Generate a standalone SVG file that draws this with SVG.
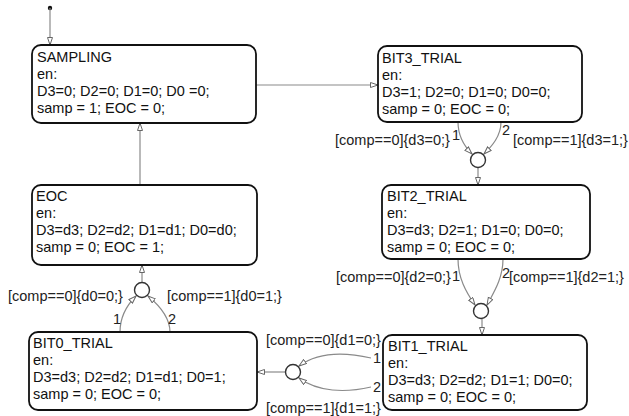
<svg xmlns="http://www.w3.org/2000/svg" width="629" height="416" viewBox="0 0 629 416">
<style>
.box{fill:#fff;stroke:#111;stroke-width:1.8}
.t{font-family:"Liberation Sans",Arial,sans-serif;font-size:14.5px;fill:#111}
.lb{font-family:"Liberation Sans",Arial,sans-serif;font-size:14.5px;fill:#222}
.c{fill:none;stroke:#8a8a8a;stroke-width:1.2}
.j{fill:#fff;stroke:#333;stroke-width:1.4}
</style>
<defs>
<marker id="ah" markerUnits="userSpaceOnUse" markerWidth="10" markerHeight="8" refX="8" refY="3" orient="auto">
<path d="M0.5,0.5 L8,3 L0.5,5.5 Z" fill="#fff" stroke="#666" stroke-width="1"/>
</marker>
</defs>
<rect width="629" height="416" fill="#fff"/>
<g id="connectors">
<circle cx="50" cy="8" r="2.2" fill="#111"/>
<path class="c" d="M50,8 L50,45" marker-end="url(#ah)"/>
<path class="c" d="M256,85 L378,85" marker-end="url(#ah)"/>
<path class="c" d="M140,185 L140,123" marker-end="url(#ah)"/>
<path class="c" d="M458,122 C458,136 464,146 472,154" marker-end="url(#ah)"/>
<path class="c" d="M501,122 C501,136 492,146 484,154" marker-end="url(#ah)"/>
<path class="c" d="M478,168 L478,185" marker-end="url(#ah)"/>
<path class="c" d="M458,259 C458,278 466,292 475,305" marker-end="url(#ah)"/>
<path class="c" d="M503,259 C503,278 494,292 487,305" marker-end="url(#ah)"/>
<path class="c" d="M482,319 L482,335" marker-end="url(#ah)"/>
<path class="c" d="M371,358 C345,352 318,352 299,366" marker-end="url(#ah)"/>
<path class="c" d="M371,387 C345,393 318,392 299,378" marker-end="url(#ah)"/>
<path class="c" d="M285,372 L257,372" marker-end="url(#ah)"/>
<path class="c" d="M120,332 C120,318 126,306 136,296" marker-end="url(#ah)"/>
<path class="c" d="M170,332 C170,318 160,306 148,296" marker-end="url(#ah)"/>
<path class="c" d="M142,283 L142,265" marker-end="url(#ah)"/>
<circle class="j" cx="478" cy="160" r="7.5"/>
<circle class="j" cx="481" cy="311" r="7.5"/>
<circle class="j" cx="293" cy="372" r="7.5"/>
<circle class="j" cx="142" cy="290" r="7.5"/>
<text class="lb" x="335" y="145">[comp==0]{d3=0;}</text>
<text class="lb" x="452" y="140">1</text>
<text class="lb" x="502" y="135">2</text>
<text class="lb" x="513" y="145">[comp==1]{d3=1;}</text>
<text class="lb" x="336" y="282">[comp==0]{d2=0;}</text>
<text class="lb" x="452" y="281">1</text>
<text class="lb" x="502" y="278">2</text>
<text class="lb" x="509" y="282">[comp==1]{d2=1;}</text>
<text class="lb" x="266" y="345">[comp==0]{d1=0;}</text>
<text class="lb" x="373" y="363">1</text>
<text class="lb" x="373" y="392">2</text>
<text class="lb" x="266" y="413">[comp==1]{d1=1;}</text>
<text class="lb" x="8" y="301">[comp==0]{d0=0;}</text>
<text class="lb" x="113" y="324">1</text>
<text class="lb" x="168" y="324">2</text>
<text class="lb" x="167" y="301">[comp==1]{d0=1;}</text>
</g>
<g id="SAMPLING">
<rect class="box" x="32" y="45" width="224" height="78" rx="9"/>
<text class="t" x="37" y="62">SAMPLING</text>
<text class="t" x="37" y="79">en:</text>
<text class="t" x="37" y="96">D3=0; D2=0; D1=0; D0 =0;</text>
<text class="t" x="37" y="113">samp = 1; EOC = 0;</text>
</g>
<g id="BIT3_TRIAL">
<rect class="box" x="378" y="46" width="204" height="76" rx="9"/>
<text class="t" x="382" y="63">BIT3_TRIAL</text>
<text class="t" x="382" y="80">en:</text>
<text class="t" x="382" y="97">D3=1; D2=0; D1=0; D0=0;</text>
<text class="t" x="382" y="114">samp = 0; EOC = 0;</text>
</g>
<g id="BIT2_TRIAL">
<rect class="box" x="382" y="185" width="208" height="74" rx="9"/>
<text class="t" x="387" y="201">BIT2_TRIAL</text>
<text class="t" x="387" y="218">en:</text>
<text class="t" x="387" y="235">D3=d3; D2=1; D1=0; D0=0;</text>
<text class="t" x="387" y="252">samp = 0; EOC = 0;</text>
</g>
<g id="BIT1_TRIAL">
<rect class="box" x="383" y="335" width="204" height="75" rx="9"/>
<text class="t" x="388" y="351">BIT1_TRIAL</text>
<text class="t" x="388" y="368">en:</text>
<text class="t" x="388" y="385">D3=d3; D2=d2; D1=1; D0=0;</text>
<text class="t" x="388" y="402">samp = 0; EOC = 0;</text>
</g>
<g id="EOC">
<rect class="box" x="32" y="185" width="225" height="80" rx="9"/>
<text class="t" x="36" y="201">EOC</text>
<text class="t" x="36" y="218">en:</text>
<text class="t" x="36" y="235">D3=d3; D2=d2; D1=d1; D0=d0;</text>
<text class="t" x="36" y="252">samp = 0; EOC = 1;</text>
</g>
<g id="BIT0_TRIAL">
<rect class="box" x="29" y="332" width="228" height="78" rx="9"/>
<text class="t" x="33" y="348">BIT0_TRIAL</text>
<text class="t" x="33" y="365">en:</text>
<text class="t" x="33" y="382">D3=d3; D2=d2; D1=d1; D0=1;</text>
<text class="t" x="33" y="399">samp = 0; EOC = 0;</text>
</g>
</svg>
